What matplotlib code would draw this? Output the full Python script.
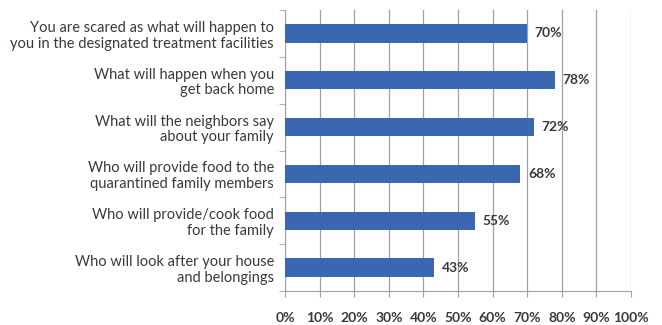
import matplotlib.pyplot as plt
import numpy as np

# Données
categorias = [
    "You are scared as what will happen to\nyou in the designated treatment facilities",
    "What will happen when you\nget back home",
    "What will the neighbors say\nabout your family",
    "Who will provide food to the\nquarantined family members",
    "Who will provide/cook food\nfor the family",
    "Who will look after your house\nand belongings",
]
valores = [70, 78, 72, 68, 55, 43]
ticks_x = [0, 10, 20, 30, 40, 50, 60, 70, 80, 90, 100]

plt.rcParams['font.family'] = ['Lato', 'DejaVu Sans']
cor_texto = '#363a40'
cor_grade = '#a0a0a0'

fig = plt.figure(figsize=(6.62, 3.25), dpi=100)
ax = fig.add_axes([285/662, 34/325, 346/662, 281/325])

y = np.arange(len(categorias))
ax.barh(y, valores, height=0.39, color='#3b66b1', zorder=3)
for yi, v in zip(y, valores):
    ax.text(v + 2.2, yi, f'{v}%', va='center', ha='left', fontsize=10,
            color=cor_texto, fontweight='bold')

ax.set_ylim(len(categorias) - 0.5, -0.5)
ax.set_xlim(0, 100)
ax.set_xticks(ticks_x)
ax.set_xticklabels([f'{t}%' for t in ticks_x], fontsize=10, color=cor_texto,
                   fontweight='bold')
ax.set_yticks(y)
ax.set_yticklabels(categorias, fontsize=10.5, color=cor_texto, linespacing=1.15)
ax.set_yticks(np.arange(len(categorias) + 1) - 0.5, minor=True)
ax.tick_params(axis='y', which='major', length=0, pad=8)
ax.tick_params(axis='y', which='minor', length=4, color=cor_grade)
ax.tick_params(axis='x', length=4, color=cor_grade, pad=11)

ax.grid(axis='x', color=cor_grade, linewidth=0.9, zorder=0)
for lado in ['top', 'right']:
    ax.spines[lado].set_visible(False)
for lado in ['left', 'bottom']:
    ax.spines[lado].set_color(cor_grade)

fig.savefig('out.png', dpi=100)
